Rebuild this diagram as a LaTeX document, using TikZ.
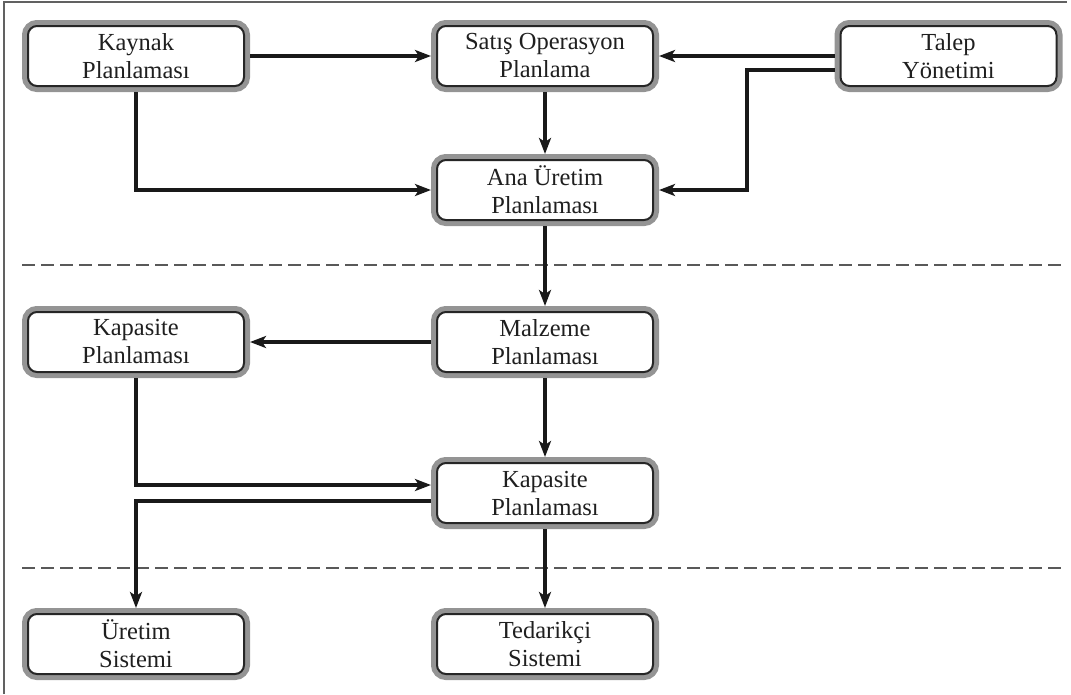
\documentclass[tikz,border=0pt]{standalone}
\usepackage{fontspec}
\setmainfont{Liberation Serif}
\usetikzlibrary{arrows.meta}
\tikzset{
  box/.style={rectangle, rounded corners=9pt, minimum width=216pt, minimum height=60pt,
    inner sep=0pt, outer sep=6pt, fill=white, draw=black!85, line width=2pt,
    preaction={draw=black!42, line width=12pt},
    align=center, text=black!88, font=\fontsize{24.5}{28}\selectfont},
  conn/.style={line width=3.6pt, draw=black!90, -{Stealth[length=16pt,width=12pt,inset=4pt]}},
  sep/.style={dash pattern=on 13pt off 6pt, line width=1.5pt, draw=black!65},
  frame/.style={line width=2pt, draw=black!62}
}
\begin{document}
\begin{tikzpicture}[x=1pt,y=-1pt]
\useasboundingbox (0,0) rectangle (1071,694);
\draw[frame] (4,694) -- (4,2) -- (1067,2);
\draw[sep] (22,265) -- (1062,265);
\draw[sep] (22,568) -- (1062,568);

\node[box] (kay) at (136,56) {Kaynak\\Planlaması};
\node[box] (sat) at (545,56) {Satış Operasyon\\Planlama};
\node[box] (tal) at (948.5,56) {Talep\\Yönetimi};
\node[box] (ana) at (545,190) {Ana Üretim\\Planlaması};
\node[box] (kapL) at (136,342) {Kapasite\\Planlaması};
\node[box] (mal) at (545,342) {Malzeme\\Planlaması};
\node[box] (kapM) at (545,493) {Kapasite\\Planlaması};
\node[box] (ure) at (136,644) {Üretim\\Sistemi};
\node[box] (ted) at (545,644) {Tedarikçi\\Sistemi};

\draw[conn] (kay.east) -- (sat.west);
\draw[conn] (tal.west) -- (sat.east);
\draw[conn] ([yshift=-14pt]tal.west) -| ([xshift=88pt]ana.east) -- (ana.east);
\draw[conn] (sat.south) -- (ana.north);
\draw[conn] (kay.south) |- (ana.west);
\draw[conn] (ana.south) -- (mal.north);
\draw[conn] (mal.west) -- (kapL.east);
\draw[conn] (mal.south) -- (kapM.north);
\draw[conn] (kapL.south) |- ([yshift=8pt]kapM.west);
\draw[conn] ([yshift=-8pt]kapM.west) -| (ure.north);
\draw[conn] (kapM.south) -- (ted.north);
\end{tikzpicture}
\end{document}
